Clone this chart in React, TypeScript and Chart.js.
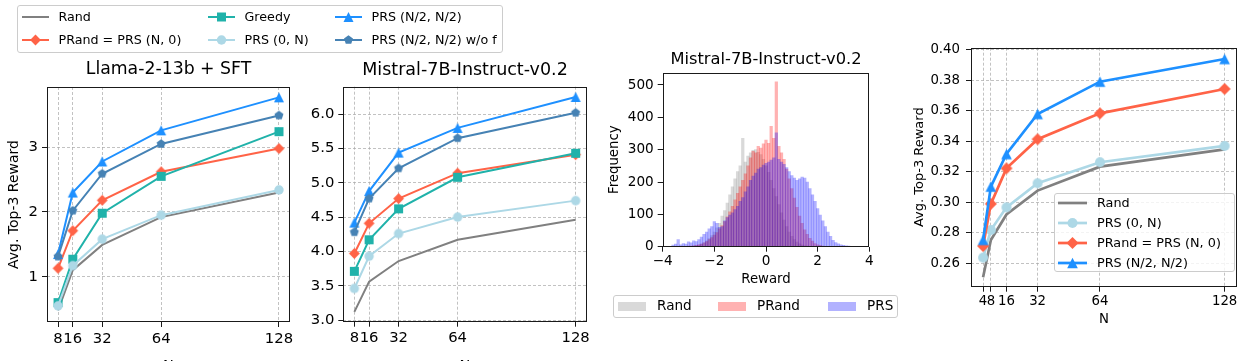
import React, { useEffect, useRef } from 'react';
import { Chart, registerables } from 'chart.js';

Chart.register(...registerables);

const FONT = "'DejaVu Sans', sans-serif";
Chart.defaults.font.family = FONT;
Chart.defaults.color = '#000';

// ---------------- data ----------------
const nSteps = [8, 16, 32, 64, 128];
const nStepsAblation = [4, 8, 16, 32, 64, 128];

// Llama-2-13b + SFT
const llamaRand = [0.48, 1.1, 1.49, 1.92, 2.3];
const llamaPRand = [1.13, 1.71, 2.18, 2.62, 2.98];
const llamaGreedy = [0.6, 1.27, 1.98, 2.55, 3.24];
const llamaPRS0N = [0.55, 1.17, 1.58, 1.95, 2.34];
const llamaPRSHalf = [1.35, 2.3, 2.78, 3.26, 3.77];
const llamaPRSNoF = [1.31, 2.02, 2.59, 3.05, 3.49];

// Mistral-7B-Instruct-v0.2
const mistralRand = [3.12, 3.56, 3.86, 4.17, 4.46];
const mistralPRand = [3.97, 4.41, 4.77, 5.14, 5.41];
const mistralGreedy = [3.71, 4.17, 4.62, 5.08, 5.43];
const mistralPRS0N = [3.46, 3.93, 4.26, 4.5, 4.74];
const mistralPRSHalf = [4.42, 4.88, 5.44, 5.8, 6.25];
const mistralPRSNoF = [4.28, 4.77, 5.21, 5.65, 6.02];

// Ablation (right panel)
const ablRand = [0.2508, 0.2753, 0.292, 0.3077, 0.3234, 0.3348];
const ablPRS0N = [0.2637, 0.2818, 0.2967, 0.3125, 0.3263, 0.337];
const ablPRand = [0.2713, 0.299, 0.3223, 0.3414, 0.3584, 0.3744];
const ablPRSHalf = [0.2753, 0.3103, 0.3317, 0.358, 0.3792, 0.3941];

// Histogram (reward distribution), bin centers
const histBins = [
  -3.6, -3.5, -3.4, -3.3, -3.2, -3.1, -3.0, -2.9, -2.8, -2.7,
  -2.6, -2.5, -2.4, -2.3, -2.2, -2.1, -2.0, -1.9, -1.8, -1.7,
  -1.6, -1.5, -1.4, -1.3, -1.2, -1.1, -1.0, -0.9, -0.8, -0.7,
  -0.6, -0.5, -0.4, -0.3, -0.2, -0.1, 0.0, 0.1, 0.2, 0.3,
  0.4, 0.5, 0.6, 0.7, 0.8, 0.9, 1.0, 1.1, 1.2, 1.3,
  1.4, 1.5, 1.6, 1.7, 1.8, 1.9, 2.0, 2.1, 2.2, 2.3,
  2.4, 2.5, 2.6, 2.7, 2.8, 2.9, 3.0, 3.1, 3.2,
];
const histRand = [
  0, 0, 0, 0, 0, 0, 0, 0, 2, 3,
  5, 8, 12, 18, 25, 34, 45, 58, 72, 95,
  112, 135, 160, 185, 210, 232, 250, 335, 262, 280,
  290, 298, 300, 292, 285, 270, 250, 230, 205, 180,
  155, 130, 105, 82, 62, 45, 32, 22, 14, 9,
  5, 3, 2, 0, 0, 0, 0, 0, 0, 0,
  0, 0, 0, 0, 0, 0, 0, 0, 0,
];
const histPRand = [
  0, 0, 0, 0, 0, 0, 2, 2, 3, 4,
  6, 8, 12, 16, 22, 28, 36, 44, 55, 65,
  78, 92, 108, 125, 145, 165, 185, 205, 225, 250,
  275, 295, 290, 310, 305, 318, 330, 320, 372, 335,
  510, 310, 290, 270, 240, 210, 180, 150, 122, 95,
  72, 52, 38, 26, 17, 10, 6, 4, 2, 0,
  0, 0, 0, 0, 0, 0, 0, 0, 0,
];
const histPRS = [
  5, 8, 22, 6, 10, 8, 15, 12, 18, 16,
  22, 30, 38, 45, 55, 62, 78, 72, 60, 62,
  80, 90, 98, 105, 115, 125, 140, 152, 170, 185,
  205, 218, 228, 240, 245, 252, 258, 262, 268, 275,
  352, 270, 262, 255, 245, 232, 220, 212, 205, 210,
  215, 212, 200, 180, 160, 140, 118, 98, 80, 62,
  45, 32, 20, 13, 9, 6, 4, 3, 2,
];

// ticks
const llamaYTicks = [1, 2, 3];
const mistralYTicks = [3.0, 3.5, 4.0, 4.5, 5.0, 5.5, 6.0];
const ablYTicks = [0.26, 0.28, 0.3, 0.32, 0.34, 0.36, 0.38, 0.4];
const histXTicks = [-4, -2, 0, 2, 4];
const histYTicks = [0, 100, 200, 300, 400, 500];

// ---------------- styles ----------------
const C = {
  rand: '#808080',
  prand: '#ff6347',
  greedy: '#20b2aa',
  prs0n: '#add8e6',
  prsHalf: '#1e90ff',
  prsNoF: '#4682b4',
};

type Shape = 'none' | 'diamond' | 'square' | 'circle' | 'triangle' | 'pentagon';

function shapePoints(shape: Shape, cx: number, cy: number, s: number): [number, number][] {
  if (shape === 'diamond') return [[cx, cy - s], [cx + s, cy], [cx, cy + s], [cx - s, cy]];
  if (shape === 'square') return [[cx - s, cy - s], [cx + s, cy - s], [cx + s, cy + s], [cx - s, cy + s]];
  if (shape === 'triangle') return [[cx, cy - s], [cx + s, cy + s], [cx - s, cy + s]];
  if (shape === 'pentagon') {
    const pts: [number, number][] = [];
    for (let k = 0; k < 5; k++) {
      const a = (-90 + 72 * k) * Math.PI / 180;
      pts.push([cx + s * Math.cos(a), cy + s * Math.sin(a)]);
    }
    return pts;
  }
  return [];
}

function markerImage(shape: Shape, color: string, s: number) {
  const size = Math.ceil(s * 2) + 2;
  const c = document.createElement('canvas');
  c.width = size;
  c.height = size;
  const ctx = c.getContext('2d')!;
  ctx.fillStyle = color;
  const m = size / 2;
  ctx.beginPath();
  if (shape === 'circle') {
    ctx.arc(m, m, s, 0, Math.PI * 2);
  } else {
    shapePoints(shape, m, m, s).forEach(([x, y], i) => (i ? ctx.lineTo(x, y) : ctx.moveTo(x, y)));
    ctx.closePath();
  }
  ctx.fill();
  return c;
}

const framePlugin = {
  id: 'frame',
  afterDraw(chart: any) {
    const { ctx, chartArea: a } = chart;
    ctx.save();
    ctx.strokeStyle = '#1a1a1a';
    ctx.lineWidth = 1;
    const l = Math.round(a.left) + 0.5;
    const t = Math.round(a.top) + 0.5;
    const r = Math.round(a.right) - 0.5;
    const b = Math.round(a.bottom) - 0.5;
    ctx.strokeRect(l, t, r - l, b - t);
    ctx.restore();
  },
};

// Title centred over the plot area (matplotlib style)
const axesTitlePlugin = {
  id: 'axesTitle',
  afterDraw(chart: any, _args: any, opts: any) {
    if (!opts || !opts.text) return;
    const { ctx, chartArea: a } = chart;
    ctx.save();
    ctx.font = `normal ${opts.size}px ${FONT}`;
    ctx.fillStyle = '#000';
    ctx.textAlign = 'center';
    ctx.textBaseline = 'middle';
    ctx.fillText(opts.text, (a.left + a.right) / 2, opts.y);
    ctx.restore();
  },
};

interface Geom { cl: number; cw: number; ch: number; pl: number; pr: number; pt: number; pb: number; }
interface Lbl { text: string; size: number; pos: number; }

function baseScales(o: {
  geom: Geom; xMin: number; xMax: number; yMin: number; yMax: number;
  xTicks: number[]; yTicks: number[]; xFmt: (v: number) => string; yFmt: (v: number) => string;
  tickSize: number; padX: number; padY: number; grid: boolean;
  xLabel?: Lbl; yLabel?: Lbl;
}) {
  const g = o.geom;
  const gridCfg = {
    display: true,
    drawOnChartArea: o.grid,
    drawTicks: true,
    tickLength: 5,
    tickColor: '#1a1a1a',
    tickWidth: 1,
    color: 'rgba(170,170,170,0.9)',
    lineWidth: 0.8,
    tickBorderDash: [],
  };
  const border = { display: false, dash: [3, 2] };
  const xl = o.xLabel;
  const yl = o.yLabel;
  return {
    x: {
      type: 'linear',
      min: o.xMin,
      max: o.xMax,
      offset: false,
      grid: { ...gridCfg, offset: false },
      border,
      afterBuildTicks: (s: any) => { s.ticks = o.xTicks.map((v) => ({ value: v })); },
      afterFit: (s: any) => { s.height = g.ch - g.pb; },
      ticks: {
        autoSkip: false, maxRotation: 0, minRotation: 0,
        font: { size: o.tickSize, family: FONT }, color: '#000', padding: o.padX,
        callback: (v: any) => o.xFmt(Number(v)),
      },
      title: xl ? {
        display: true, text: xl.text, color: '#000',
        font: { size: xl.size, family: FONT, lineHeight: 1.2 },
        padding: { top: 0, bottom: g.ch - xl.pos - xl.size * 0.6 },
      } : { display: false },
    },
    y: {
      type: 'linear',
      min: o.yMin,
      max: o.yMax,
      grid: gridCfg,
      border,
      afterBuildTicks: (s: any) => { s.ticks = o.yTicks.map((v) => ({ value: v })); },
      afterFit: (s: any) => { s.width = g.pl - g.cl; },
      ticks: {
        autoSkip: false,
        font: { size: o.tickSize, family: FONT }, color: '#000', padding: o.padY,
        callback: (v: any) => o.yFmt(Number(v)),
      },
      title: yl ? {
        display: true, text: yl.text, color: '#000',
        font: { size: yl.size, family: FONT, lineHeight: 1.2 },
        padding: { top: yl.pos - g.cl - yl.size * 0.6, bottom: 0 },
      } : { display: false },
    },
  };
}

function commonOptions(g: Geom, title: Lbl | undefined, scales: any) {
  return {
    animation: false, responsive: false, maintainAspectRatio: false, devicePixelRatio: 1, events: [],
    layout: { padding: { left: 0, right: g.cl + g.cw - g.pr, top: g.pt, bottom: 0 } },
    plugins: {
      legend: { display: false },
      tooltip: { enabled: false },
      title: { display: false },
      axesTitle: title ? { text: title.text, size: title.size, y: title.pos } : { text: '' },
    },
    scales,
  };
}

interface SeriesDef { label: string; values: number[]; color: string; shape: Shape; size: number; }

function lineConfig(o: {
  geom: Geom; xs: number[]; series: SeriesDef[]; lw: number;
  xMin: number; xMax: number; yMin: number; yMax: number; yTicks: number[]; yDec: number;
  tickSize: number; padX: number; padY: number; title?: Lbl; xLabel?: Lbl; yLabel?: Lbl;
}) {
  const datasets = o.series.map((s) => ({
    label: s.label,
    data: o.xs.map((x, i) => ({ x, y: s.values[i] })),
    borderColor: s.color,
    backgroundColor: s.color,
    borderWidth: o.lw,
    pointStyle: s.shape === 'none' ? 'circle' : markerImage(s.shape, s.color, s.size),
    pointRadius: s.shape === 'none' ? 0 : s.size,
    tension: 0,
    fill: false,
  })).reverse();
  return {
    type: 'line',
    data: { datasets },
    options: commonOptions(o.geom, o.title, baseScales({
      geom: o.geom, xMin: o.xMin, xMax: o.xMax, yMin: o.yMin, yMax: o.yMax,
      xTicks: o.xs, yTicks: o.yTicks, xFmt: (v) => String(v), yFmt: (v) => v.toFixed(o.yDec),
      tickSize: o.tickSize, padX: o.padX, padY: o.padY, grid: true,
      xLabel: o.xLabel, yLabel: o.yLabel,
    })),
    plugins: [framePlugin, axesTitlePlugin],
  };
}

function histConfig(g: Geom) {
  const mk = (label: string, vals: number[], color: string) => ({
    type: 'bar',
    label,
    data: histBins.map((b, i) => ({ x: b, y: vals[i] })),
    backgroundColor: color,
    borderWidth: 0,
    barPercentage: 1,
    categoryPercentage: 1,
    grouped: false,
  });
  const datasets = [
    mk('Rand', histRand, 'rgba(128,128,128,0.3)'),
    mk('PRand', histPRand, 'rgba(255,0,0,0.3)'),
    mk('PRS', histPRS, 'rgba(0,0,255,0.3)'),
  ].reverse();
  return {
    type: 'bar',
    data: { datasets },
    options: commonOptions(g, { text: 'Mistral-7B-Instruct-v0.2', size: 16.3, pos: 60 }, baseScales({
      geom: g, xMin: -4, xMax: 4, yMin: 0, yMax: 538,
      xTicks: histXTicks, yTicks: histYTicks,
      xFmt: (v) => (v < 0 ? '\u2212' + Math.abs(v) : String(v)), yFmt: (v) => String(v),
      tickSize: 13.6, padX: 2, padY: 4, grid: false,
      xLabel: { text: 'Reward', size: 13.3, pos: 280 },
      yLabel: { text: 'Frequency', size: 13.3, pos: 615 },
    })),
    plugins: [framePlugin, axesTitlePlugin],
  };
}

function ChartBox({ g, build }: { g: Geom; build: () => any }) {
  const ref = useRef<HTMLCanvasElement>(null);
  useEffect(() => {
    const chart = new Chart(ref.current as HTMLCanvasElement, build());
    return () => chart.destroy();
  }, []);
  return (
    <canvas
      ref={ref}
      width={g.cw}
      height={g.ch}
      style={{ position: 'absolute', left: g.cl, top: 0, width: g.cw, height: g.ch }}
    />
  );
}

function Swatch({ x, cy, len, color, lw, shape, size }: { x: number; cy: number; len: number; color: string; lw: number; shape: Shape; size: number }) {
  const h = 16;
  const m = h / 2;
  const cx = len / 2;
  let marker: any = null;
  if (shape === 'circle') marker = <circle cx={cx} cy={m} r={size} fill={color} />;
  else if (shape !== 'none') marker = <polygon points={shapePoints(shape, cx, m, size).map((p) => p.join(',')).join(' ')} fill={color} />;
  return (
    <svg width={len} height={h} style={{ position: 'absolute', left: x, top: cy - m, overflow: 'visible' }}>
      <line x1={0} y1={m} x2={len} y2={m} stroke={color} strokeWidth={lw} />
      {marker}
    </svg>
  );
}

function Txt({ x, cy, size, children }: { x: number; cy: number; size: number; children: any }) {
  return (
    <span style={{ position: 'absolute', left: x, top: cy, transform: 'translateY(-50%)', fontSize: size, lineHeight: 1, fontFamily: FONT, color: '#000', whiteSpace: 'nowrap' }}>
      {children}
    </span>
  );
}

const boxStyle = (l: number, t: number, w: number, h: number) => ({
  position: 'absolute' as const, left: l, top: t, width: w, height: h,
  border: '1px solid #cccccc', borderRadius: 3, background: 'rgba(255,255,255,0.8)', boxSizing: 'border-box' as const,
});

export default function App() {
  const g1: Geom = { cl: 0, cw: 300, ch: 380, pl: 47, pr: 290, pt: 87, pb: 322 };
  const g2: Geom = { cl: 300, cw: 300, ch: 380, pl: 343.3, pr: 586.7, pt: 86.7, pb: 321.7 };
  const g3: Geom = { cl: 600, cw: 300, ch: 380, pl: 662.7, pr: 869.3, pt: 72.7, pb: 246.7 };
  const g4: Geom = { cl: 900, cw: 348, ch: 380, pl: 971, pr: 1236.7, pt: 47.7, pb: 286.7 };

  const S = { diamond: 5.4, square: 4.5, circle: 4.7, triangle: 5, pentagon: 4.7 };
  const mainSeries = (r: number[], p: number[], gr: number[], z: number[], h: number[], nf: number[]): SeriesDef[] => [
    { label: 'Rand', values: r, color: C.rand, shape: 'none', size: 0 },
    { label: 'PRand = PRS (N, 0)', values: p, color: C.prand, shape: 'diamond', size: S.diamond },
    { label: 'Greedy', values: gr, color: C.greedy, shape: 'square', size: S.square },
    { label: 'PRS (0, N)', values: z, color: C.prs0n, shape: 'circle', size: S.circle },
    { label: 'PRS (N/2, N/2)', values: h, color: C.prsHalf, shape: 'triangle', size: S.triangle },
    { label: 'PRS (N/2, N/2) w/o f', values: nf, color: C.prsNoF, shape: 'pentagon', size: S.pentagon },
  ];
  const S4 = { diamond: 6, circle: 5, triangle: 5.3 };
  const ablSeries: SeriesDef[] = [
    { label: 'Rand', values: ablRand, color: C.rand, shape: 'none', size: 0 },
    { label: 'PRS (0, N)', values: ablPRS0N, color: C.prs0n, shape: 'circle', size: S4.circle },
    { label: 'PRand = PRS (N, 0)', values: ablPRand, color: C.prand, shape: 'diamond', size: S4.diamond },
    { label: 'PRS (N/2, N/2)', values: ablPRSHalf, color: C.prsHalf, shape: 'triangle', size: S4.triangle },
  ];

  const topLegend = [
    { label: 'Rand', color: C.rand, shape: 'none' as Shape, size: 0 },
    { label: 'PRand = PRS (N, 0)', color: C.prand, shape: 'diamond' as Shape, size: S.diamond },
    { label: 'Greedy', color: C.greedy, shape: 'square' as Shape, size: S.square },
    { label: 'PRS (0, N)', color: C.prs0n, shape: 'circle' as Shape, size: S.circle },
    { label: 'PRS (N/2, N/2)', color: C.prsHalf, shape: 'triangle' as Shape, size: S.triangle },
    { label: 'PRS (N/2, N/2) w/o f', color: C.prsNoF, shape: 'pentagon' as Shape, size: S.pentagon },
  ];
  const topColX = [22, 208, 335];
  const topRowY = [17, 40];

  const histLegend = [
    { label: 'Rand', color: 'rgba(128,128,128,0.3)', px: 618, tx: 657 },
    { label: 'PRand', color: 'rgba(255,0,0,0.3)', px: 718, tx: 757 },
    { label: 'PRS', color: 'rgba(0,0,255,0.3)', px: 828, tx: 867 },
  ];
  const ablRowY = [203, 223, 243, 263];

  return (
    <div style={{ position: 'fixed', left: 0, top: 0, width: 1248, height: 361, overflow: 'hidden', background: '#fff' }}>
      <ChartBox g={g1} build={() => lineConfig({
        geom: g1, xs: nSteps, series: mainSeries(llamaRand, llamaPRand, llamaGreedy, llamaPRS0N, llamaPRSHalf, llamaPRSNoF),
        lw: 2, xMin: 2, xMax: 134, yMin: 0.3, yMax: 3.93, yTicks: llamaYTicks, yDec: 0,
        tickSize: 14.8, padX: 3, padY: 4,
        title: { text: 'Llama-2-13b + SFT', size: 17.3, pos: 70 },
        xLabel: { text: 'N', size: 14.5, pos: 366 },
        yLabel: { text: 'Avg. Top-3 Reward', size: 14, pos: 14 },
      })} />
      <ChartBox g={g2} build={() => lineConfig({
        geom: g2, xs: nSteps, series: mainSeries(mistralRand, mistralPRand, mistralGreedy, mistralPRS0N, mistralPRSHalf, mistralPRSNoF),
        lw: 2, xMin: 2, xMax: 134, yMin: 2.976, yMax: 6.4, yTicks: mistralYTicks, yDec: 1,
        tickSize: 14.8, padX: 3, padY: 4,
        title: { text: 'Mistral-7B-Instruct-v0.2', size: 17.5, pos: 70 },
        xLabel: { text: 'N', size: 14.5, pos: 366 },
      })} />
      <ChartBox g={g3} build={() => histConfig(g3)} />
      <ChartBox g={g4} build={() => lineConfig({
        geom: g4, xs: nStepsAblation, series: ablSeries,
        lw: 2.7, xMin: -2.2, xMax: 134.2, yMin: 0.2446, yMax: 0.4015, yTicks: ablYTicks, yDec: 2,
        tickSize: 13.3, padX: 2, padY: 6,
        xLabel: { text: 'N', size: 13.3, pos: 320 },
        yLabel: { text: 'Avg. Top-3 Reward', size: 13, pos: 920 },
      })} />

      <div style={boxStyle(17, 5, 486, 48)} />
      {topLegend.map((it, i) => {
        const col = Math.floor(i / 2);
        const row = i % 2;
        return (
          <React.Fragment key={it.label}>
            <Swatch x={topColX[col]} cy={topRowY[row]} len={27} color={it.color} lw={2} shape={it.shape} size={it.size} />
            <Txt x={topColX[col] + 36.5} cy={topRowY[row]} size={12.7}>{it.label}</Txt>
          </React.Fragment>
        );
      })}

      <div style={boxStyle(613, 295, 285, 23)} />
      {histLegend.map((it) => (
        <React.Fragment key={it.label}>
          <div style={{ position: 'absolute', left: it.px, top: 301.5, width: 28, height: 9.5, background: it.color }} />
          <Txt x={it.tx} cy={306} size={13.6}>{it.label}</Txt>
        </React.Fragment>
      ))}

      <div style={boxStyle(1054, 193, 181, 79)} />
      {ablSeries.map((s, i) => (
        <React.Fragment key={s.label}>
          <Swatch x={1058} cy={ablRowY[i]} len={29} color={s.color} lw={2.7} shape={s.shape} size={s.size} />
          <Txt x={1097} cy={ablRowY[i]} size={12.8}>{s.label}</Txt>
        </React.Fragment>
      ))}
    </div>
  );
}
